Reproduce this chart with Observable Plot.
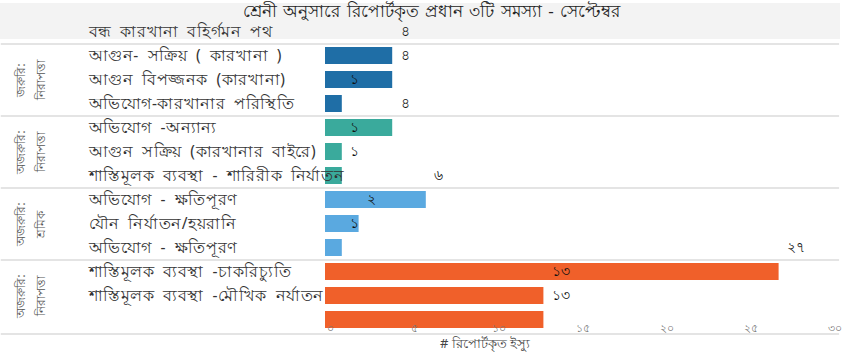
<!DOCTYPE html>
<html><head><meta charset="utf-8">
<script src="https://cdn.jsdelivr.net/npm/d3@7"></script>
<script src="https://cdn.jsdelivr.net/npm/@observablehq/plot@0.6"></script>
<style>
body{margin:0;background:#fff;font-family:"Noto Sans",sans-serif;}
#wrap{position:relative;width:863px;height:360px;overflow:hidden;}
#band{position:absolute;left:0;top:3px;width:840px;height:36px;background:#f3f3f3;}
#title{position:absolute;left:0;top:1px;width:863px;text-align:center;font-size:17px;color:#222;line-height:20px;word-spacing:2px;}
#xlabel{position:absolute;left:440px;top:334px;font-size:13px;color:#444;}
#chart{position:absolute;left:0;top:0;}
.cat text{letter-spacing:0.6px;word-spacing:4px;}
</style></head>
<body>
<div id="wrap">
  <div id="band"></div>
  <div id="chart"></div>
  <div id="title">শ্রেনী অনুসারে রিপোর্টকৃত প্রধান ৩টি সমস্যা - সেপ্টেম্বর</div>
  <div id="xlabel"># রিপোর্টকৃত ইস্যু</div>
</div>
<script>
const categories = [
  "বন্ধ কারখানা বহির্গমন পথ",
  "আগুন- সক্রিয় ( কারখানা )",
  "আগুন বিপজ্জনক (কারখানা)",
  "অভিযোগ-কারখানার পরিস্থিতি",
  "অভিযোগ -অন্যান্য",
  "আগুন সক্রিয় (কারখানার বাইরে)",
  "শাস্তিমূলক ব্যবস্থা - শারিরীক নির্যাতন",
  "অভিযোগ - ক্ষতিপূরণ",
  "যৌন নির্যাতন/হয়রানি",
  "অভিযোগ - ক্ষতিপূরণ",
  "শাস্তিমূলক ব্যবস্থা -চাকরিচ্যুতি",
  "শাস্তিমূলক ব্যবস্থা -মৌখিক নর্যাতন"
];
const values = [4, 4, 1, 4, 1, 1, 6, 2, 1, 27, 13, 13];
const valueLabels = ["৪", "৪", "১", "৪", "১", "১", "৬", "২", "১", "২৭", "১৩", "১৩"];
const barGroup = [0, 0, 0, 1, 1, 1, 2, 2, 2, 3, 3, 3];
const groupLine1 = ["জরুরি:", "অজরুরি:", "অজরুরি:", "অজরুরি:"];
const groupLine2 = ["নিরাপত্তা", "নিরাপত্তা", "শ্রমিক", "নিরাপত্তা"];
const groupColors = ["#1f6ea6", "#3aaa9c", "#5aa9e0", "#f0602a"];
const xTicks = [0, 5, 10, 15, 20, 25, 30];
const xTickLabels = ["০", "৫", "১০", "১৫", "২০", "২৫", "৩০"];

const slots = d3.range(categories.length + 1);
const groupIdx = d3.range(groupLine1.length);
const bars = values.map((v, i) => ({v, slot: i + 1, g: barGroup[i]}));
const labels = values.map((v, i) => ({v, slot: i, t: valueLabels[i]}));
const cats = categories.map((c, i) => ({c, slot: i}));
const groups = groupIdx.map(g => ({g, slot: 3 * g + 2, t: groupLine1[g] + "\n" + groupLine2[g]}));
const sepTop = groupIdx.map(g => 3 * g + 1);
const sepBottom = [categories.length];

const ff = "'Noto Sans', 'DejaVu Sans', sans-serif";
const chart = Plot.plot({
  width: 863, height: 360,
  marginLeft: 325, marginRight: 34, marginTop: 19, marginBottom: 28,
  style: {fontFamily: ff, background: "transparent"},
  x: {domain: [0, 30]},
  y: {type: "band", domain: slots, paddingInner: 0.3, paddingOuter: 0.15, axis: null},
  color: {domain: groupIdx, range: groupColors},
  marks: [
    Plot.ruleY(sepTop, {y: d => d, dy: -12, x1: -19.3, x2: 30.6, stroke: "#e4e4e4", strokeWidth: 2}),
    Plot.ruleY(sepBottom, {y: d => d, dy: 14, x1: -19.3, x2: 30.6, stroke: "#e4e4e4", strokeWidth: 2}),
    Plot.barX(bars, {x: "v", y: "slot", fill: "g"}),
    Plot.text(labels, {x: "v", y: "slot", text: "t", textAnchor: "start", dx: 8, fontSize: 14, fill: "#111"}),
    Plot.text(cats, {y: "slot", text: "c", frameAnchor: "left", textAnchor: "start", dx: -237, fontSize: 15.5, fill: "#333", className: "cat"}),
    Plot.text(groups, {y: "slot", text: "t", frameAnchor: "left", textAnchor: "middle", lineAnchor: "middle", dx: -297, rotate: -90, fontSize: 12, lineHeight: 1.65, fill: "#555"}),
    Plot.axisX({anchor: "bottom", ticks: xTicks, tickFormat: d => xTickLabels[xTicks.indexOf(d)], tickSize: 0, dy: -17, dx: 5, fill: "#777", fontSize: 11, label: null})
  ]
});
document.getElementById("chart").appendChild(chart);
</script>
</body></html>
